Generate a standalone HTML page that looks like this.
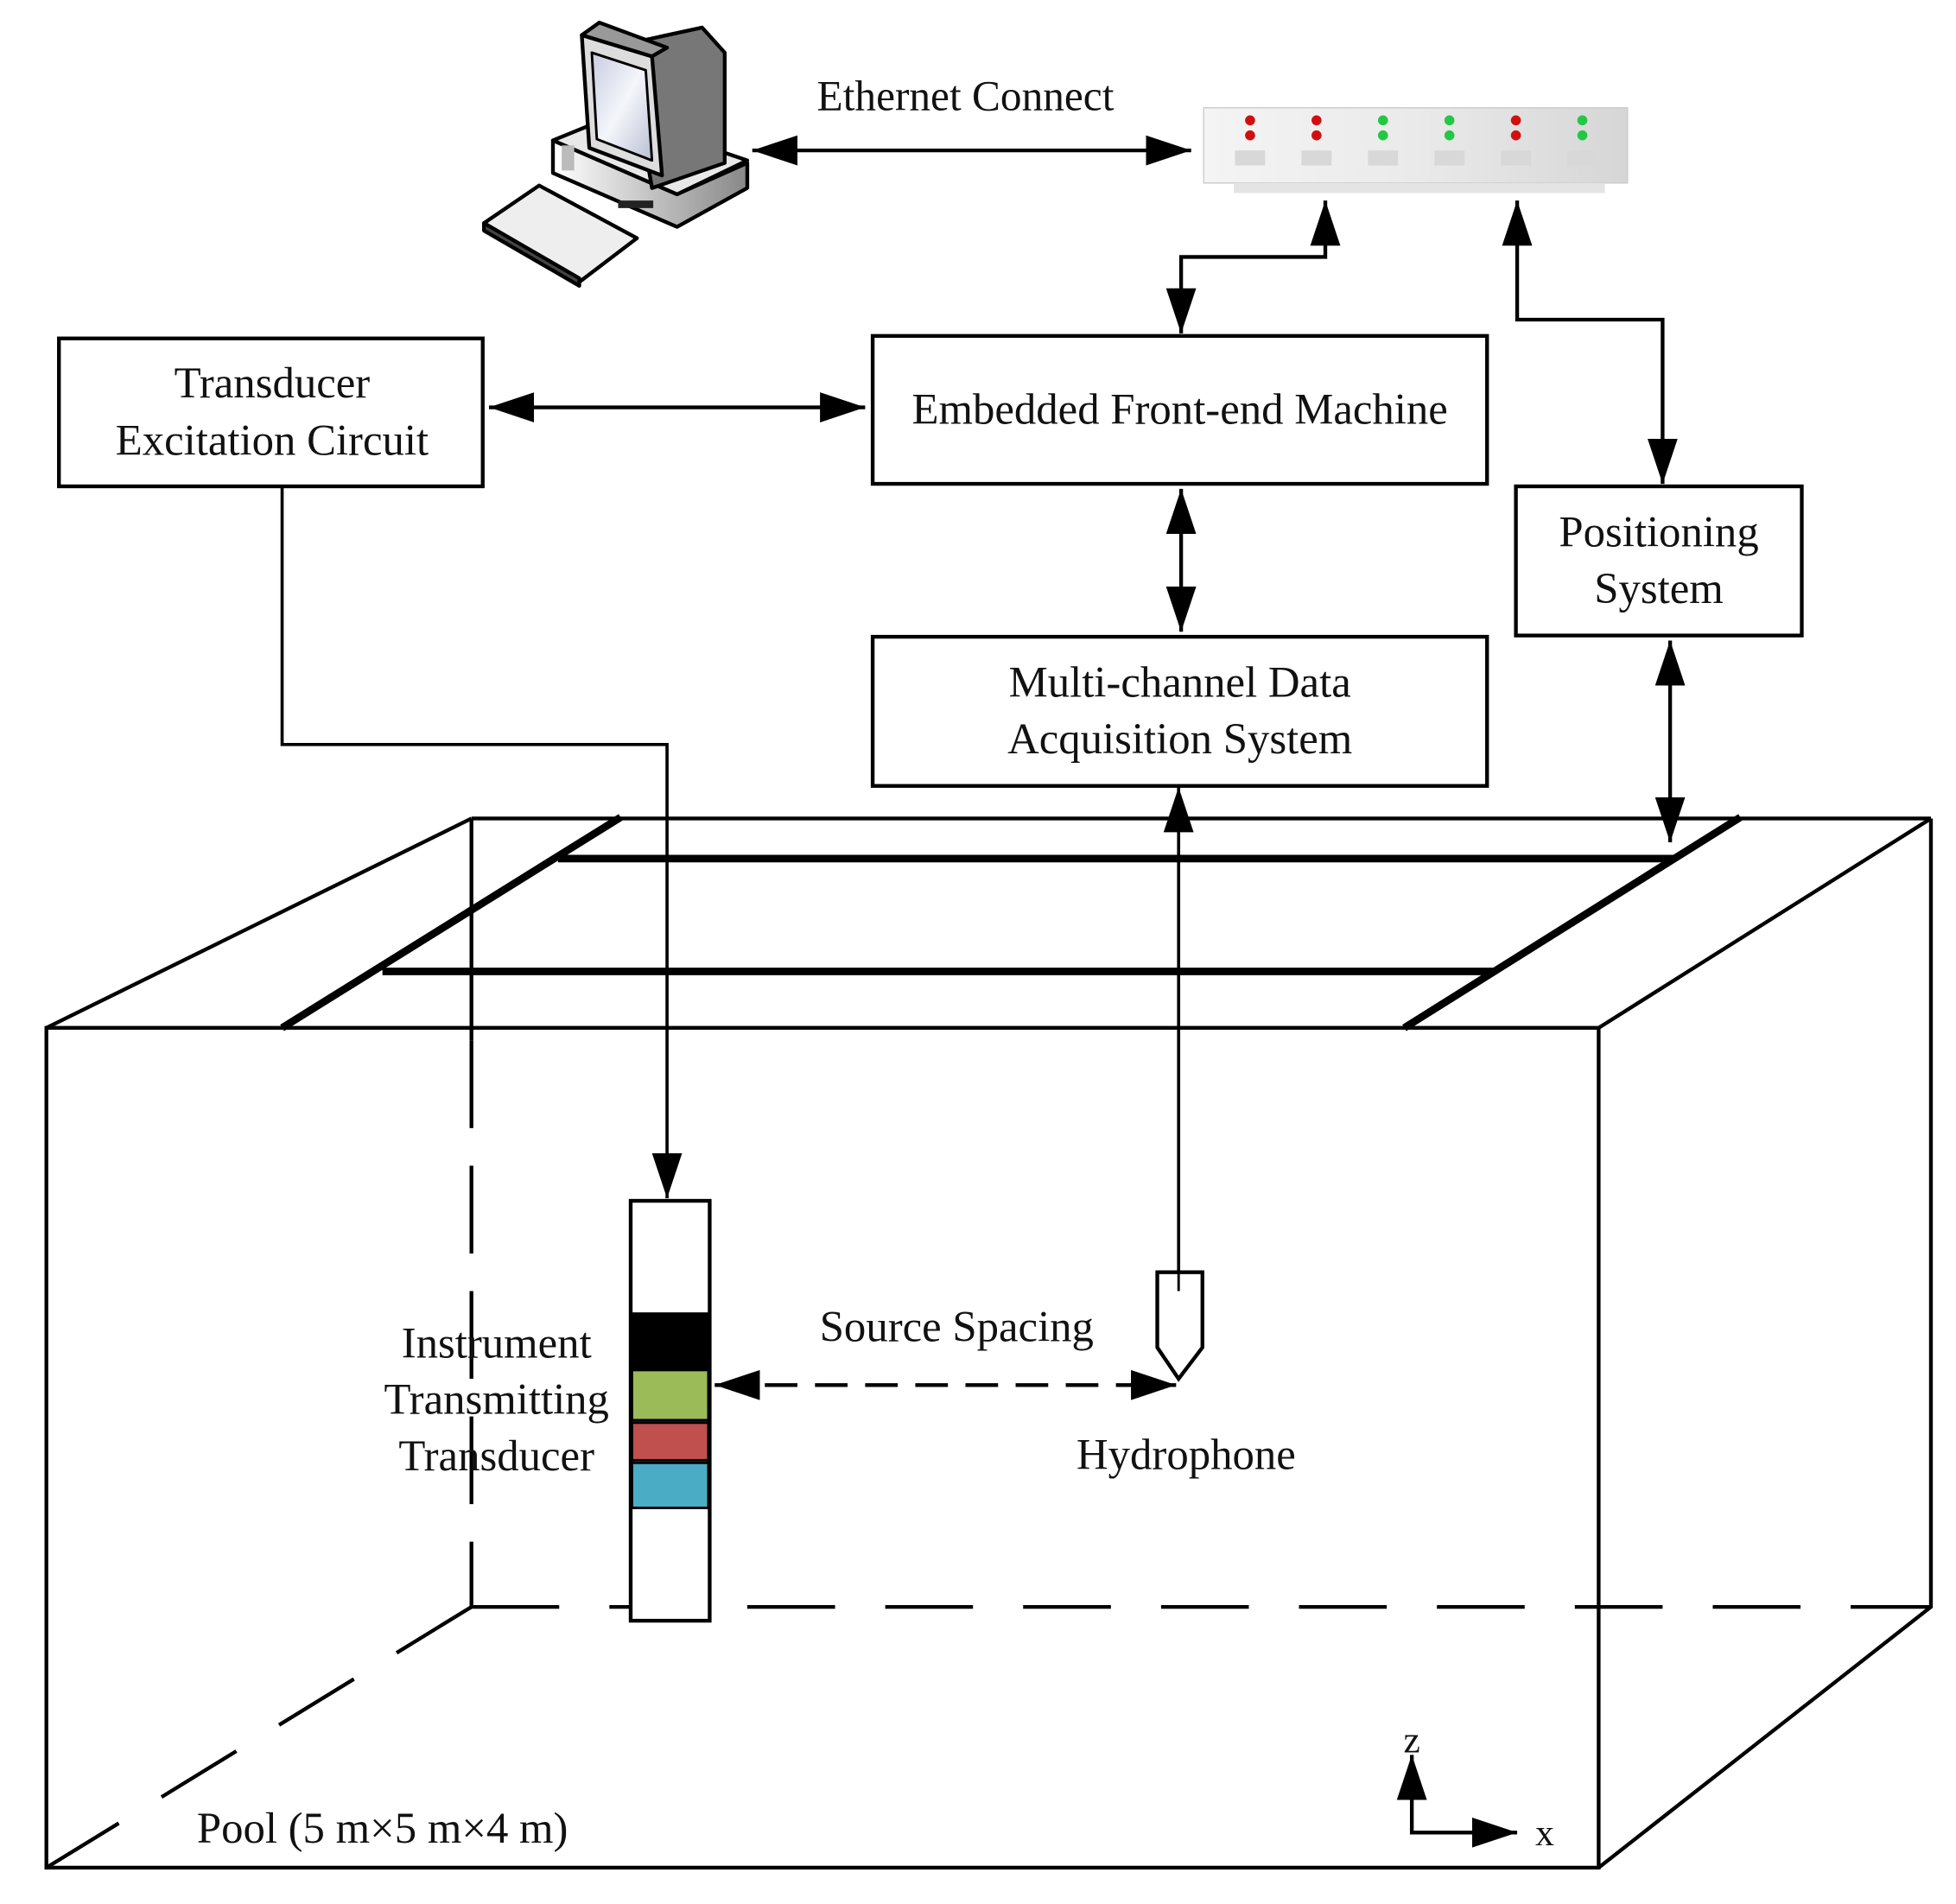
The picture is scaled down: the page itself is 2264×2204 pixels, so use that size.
<!DOCTYPE html>
<html><head><meta charset="utf-8"><style>
html,body{margin:0;padding:0;background:#fff;}
svg{display:block;}
text{font-family:"Liberation Serif",serif;fill:#111;}
</style></head><body>
<svg width="2264" height="2204" viewBox="0 0 1560 1519" preserveAspectRatio="none" xmlns="http://www.w3.org/2000/svg">
<defs>
<marker id="a" viewBox="0 0 10 10" refX="10" refY="5" markerWidth="9" markerHeight="9" markerUnits="userSpaceOnUse" orient="auto-start-reverse"><path d="M0,0L10,5L0,10z" fill="#000"/></marker>
<marker id="b" viewBox="0 0 10 10" refX="10" refY="5" markerWidth="36" markerHeight="24" markerUnits="userSpaceOnUse" orient="auto-start-reverse" preserveAspectRatio="none"><path d="M0,0L10,5L0,10z" fill="#000"/></marker>
<linearGradient id="sw" x1="0" x2="1"><stop offset="0" stop-color="#f4f4f4"/><stop offset="0.5" stop-color="#eaeaea"/><stop offset="1" stop-color="#d6d6d6"/></linearGradient>
<linearGradient id="scr" x1="0" y1="0" x2="1" y2="1"><stop offset="0" stop-color="#c8cde0"/><stop offset="0.5" stop-color="#f4f6fb"/><stop offset="1" stop-color="#b9bfd3"/></linearGradient>
<linearGradient id="gr" x1="0" x2="1"><stop offset="0" stop-color="#fff"/><stop offset="1" stop-color="#888"/></linearGradient>
</defs>

<!-- computer -->
<g stroke="#000" stroke-width="3" stroke-linejoin="round">
<polygon points="441,112 540,155 596,130 596,150 540,181 441,138" fill="url(#gr)"/>
<polygon points="441,112 490,92 596,128 540,155" fill="#e8e8e8"/>
<polygon points="500,35 560,22 578,42 578,130 520,150" fill="#777"/>
<polygon points="464,28 520,45 528,140 470,118" fill="#ddd"/>
<polygon points="472,42 515,56 520,128 476,111" fill="url(#scr)" stroke-width="2"/>
<polygon points="464,28 478,18 532,38 520,45" fill="#999"/>
<polygon points="386,178 430,148 508,190 462,225" fill="#eee"/>
<polygon points="386,178 462,222 462,228 386,184" fill="#444"/>
</g>
<g fill="#bbb"><rect x="448" y="116" width="10" height="20"/><rect x="493" y="160" width="28" height="6" fill="#222"/></g>

<!-- Ethernet -->
<text x="770" y="88" font-size="34" text-anchor="middle">Ethernet Connect</text>
<line x1="600" y1="120" x2="950" y2="120" stroke="#000" stroke-width="3" marker-start="url(#b)" marker-end="url(#b)"/>

<!-- switch -->
<rect x="960" y="86" width="338" height="60" fill="url(#sw)" stroke="#ccc" stroke-width="1"/>
<rect x="984" y="146" width="296" height="8" fill="#e4e4e4"/>
<g>
<circle cx="997" cy="96" r="4" fill="#d01010"/><circle cx="997" cy="108" r="4" fill="#d01010"/>
<circle cx="1050" cy="96" r="4" fill="#d01010"/><circle cx="1050" cy="108" r="4" fill="#d01010"/>
<circle cx="1103" cy="96" r="4" fill="#22c844"/><circle cx="1103" cy="108" r="4" fill="#22c844"/>
<circle cx="1156" cy="96" r="4" fill="#22c844"/><circle cx="1156" cy="108" r="4" fill="#22c844"/>
<circle cx="1209" cy="96" r="4" fill="#d01010"/><circle cx="1209" cy="108" r="4" fill="#d01010"/>
<circle cx="1262" cy="96" r="4" fill="#22c844"/><circle cx="1262" cy="108" r="4" fill="#22c844"/>
</g>
<g fill="#d8d8d8"><rect x="985" y="120" width="24" height="12"/><rect x="1038" y="120" width="24" height="12"/><rect x="1091" y="120" width="24" height="12"/><rect x="1144" y="120" width="24" height="12"/><rect x="1197" y="120" width="24" height="12"/><rect x="1250" y="120" width="24" height="12"/></g>

<!-- connectors top -->
<g fill="none" stroke="#000" stroke-width="3">
<polyline points="1057,160 1057,205 942,205 942,266" marker-start="url(#b)" marker-end="url(#b)"/>
<polyline points="1210,160 1210,255 1326,255 1326,386" marker-start="url(#b)" marker-end="url(#b)"/>
<line x1="390" y1="325" x2="690" y2="325" marker-start="url(#b)" marker-end="url(#b)"/>
<line x1="942" y1="390" x2="942" y2="504" marker-start="url(#b)" marker-end="url(#b)"/>
<line x1="1332" y1="511" x2="1332" y2="672" marker-start="url(#b)" marker-end="url(#b)"/>
<polyline points="225,388 225,594 532,594 532,956" stroke-width="2.5" marker-end="url(#b)"/>
<line x1="940" y1="628" x2="940" y2="1015" stroke-width="2.5" marker-start="url(#b)"/>
</g>

<!-- boxes -->
<g fill="#fff" stroke="#000" stroke-width="3">
<rect x="47" y="270" width="338" height="118"/>
<rect x="696" y="268" width="490" height="118"/>
<rect x="696" y="508" width="490" height="119"/>
<rect x="1209" y="388" width="228" height="119"/>
</g>
<g font-size="35" text-anchor="middle">
<text x="217" y="317">Transducer</text>
<text x="217" y="363">Excitation Circuit</text>
<text x="941" y="338">Embedded Front-end Machine</text>
<text x="941" y="556">Multi-channel Data</text>
<text x="941" y="601">Acquisition System</text>
<text x="1323" y="436">Positioning</text>
<text x="1323" y="481">System</text>
</g>

<!-- pool -->
<g fill="none" stroke="#000" stroke-width="3">
<line x1="376" y1="653" x2="1540" y2="653"/>
<line x1="37" y1="820" x2="376" y2="653"/>
<line x1="1275" y1="820" x2="1540" y2="653"/>
<rect x="37" y="820" width="1238" height="670"/>
<polyline points="1540,653 1540,1282 1275,1490"/>
<line x1="376" y1="653" x2="376" y2="830"/>
<line x1="376" y1="830" x2="376" y2="1282" stroke-dasharray="70,30"/>
<line x1="376" y1="1282" x2="1540" y2="1282" stroke-dasharray="70,40"/>
<line x1="376" y1="1282" x2="37" y2="1490" stroke-dasharray="70,40"/>
</g>
<g stroke="#000" stroke-width="6">
<line x1="225" y1="820" x2="495" y2="652"/>
<line x1="1120" y1="820" x2="1388" y2="652"/>
<line x1="445" y1="685" x2="1336" y2="685"/>
<line x1="305" y1="775" x2="1192" y2="775"/>
</g>

<!-- transducer column -->
<rect x="503" y="958" width="63" height="335" fill="#fff" stroke="#000" stroke-width="3"/>
<rect x="503" y="1047" width="63" height="46" fill="#000"/>
<rect x="504" y="1093" width="61" height="40" fill="#9bbb59" stroke="#000" stroke-width="2"/>
<rect x="504" y="1135" width="61" height="30" fill="#c0504d" stroke="#000" stroke-width="2"/>
<rect x="504" y="1167" width="61" height="36" fill="#4bacc6" stroke="#000" stroke-width="2"/>

<!-- hydrophone -->
<polygon points="923,1015 959,1015 959,1075 940,1100 923,1075" fill="#fff" stroke="#000" stroke-width="3"/>
<line x1="940" y1="1015" x2="940" y2="1030" stroke="#000" stroke-width="2"/>
<line x1="570" y1="1105" x2="938" y2="1105" stroke="#000" stroke-width="3" stroke-dasharray="26,14" marker-start="url(#b)" marker-end="url(#b)"/>

<g font-size="35" text-anchor="middle">
<text x="763" y="1070">Source Spacing</text>
<text x="946" y="1172">Hydrophone</text>
<text x="396" y="1083">Instrument</text>
<text x="396" y="1128">Transmitting</text>
<text x="396" y="1173">Transducer</text>
</g>
<text x="157" y="1470" font-size="35">Pool (5 m×5 m×4 m)</text>

<!-- axes -->
<g fill="none" stroke="#000" stroke-width="3">
<polyline points="1126,1400 1126,1462 1210,1462" marker-start="url(#b)" marker-end="url(#b)"/>
</g>
<text x="1126" y="1398" font-size="30" text-anchor="middle">z</text>
<text x="1232" y="1472" font-size="30" text-anchor="middle">x</text>
</svg>
</body></html>
